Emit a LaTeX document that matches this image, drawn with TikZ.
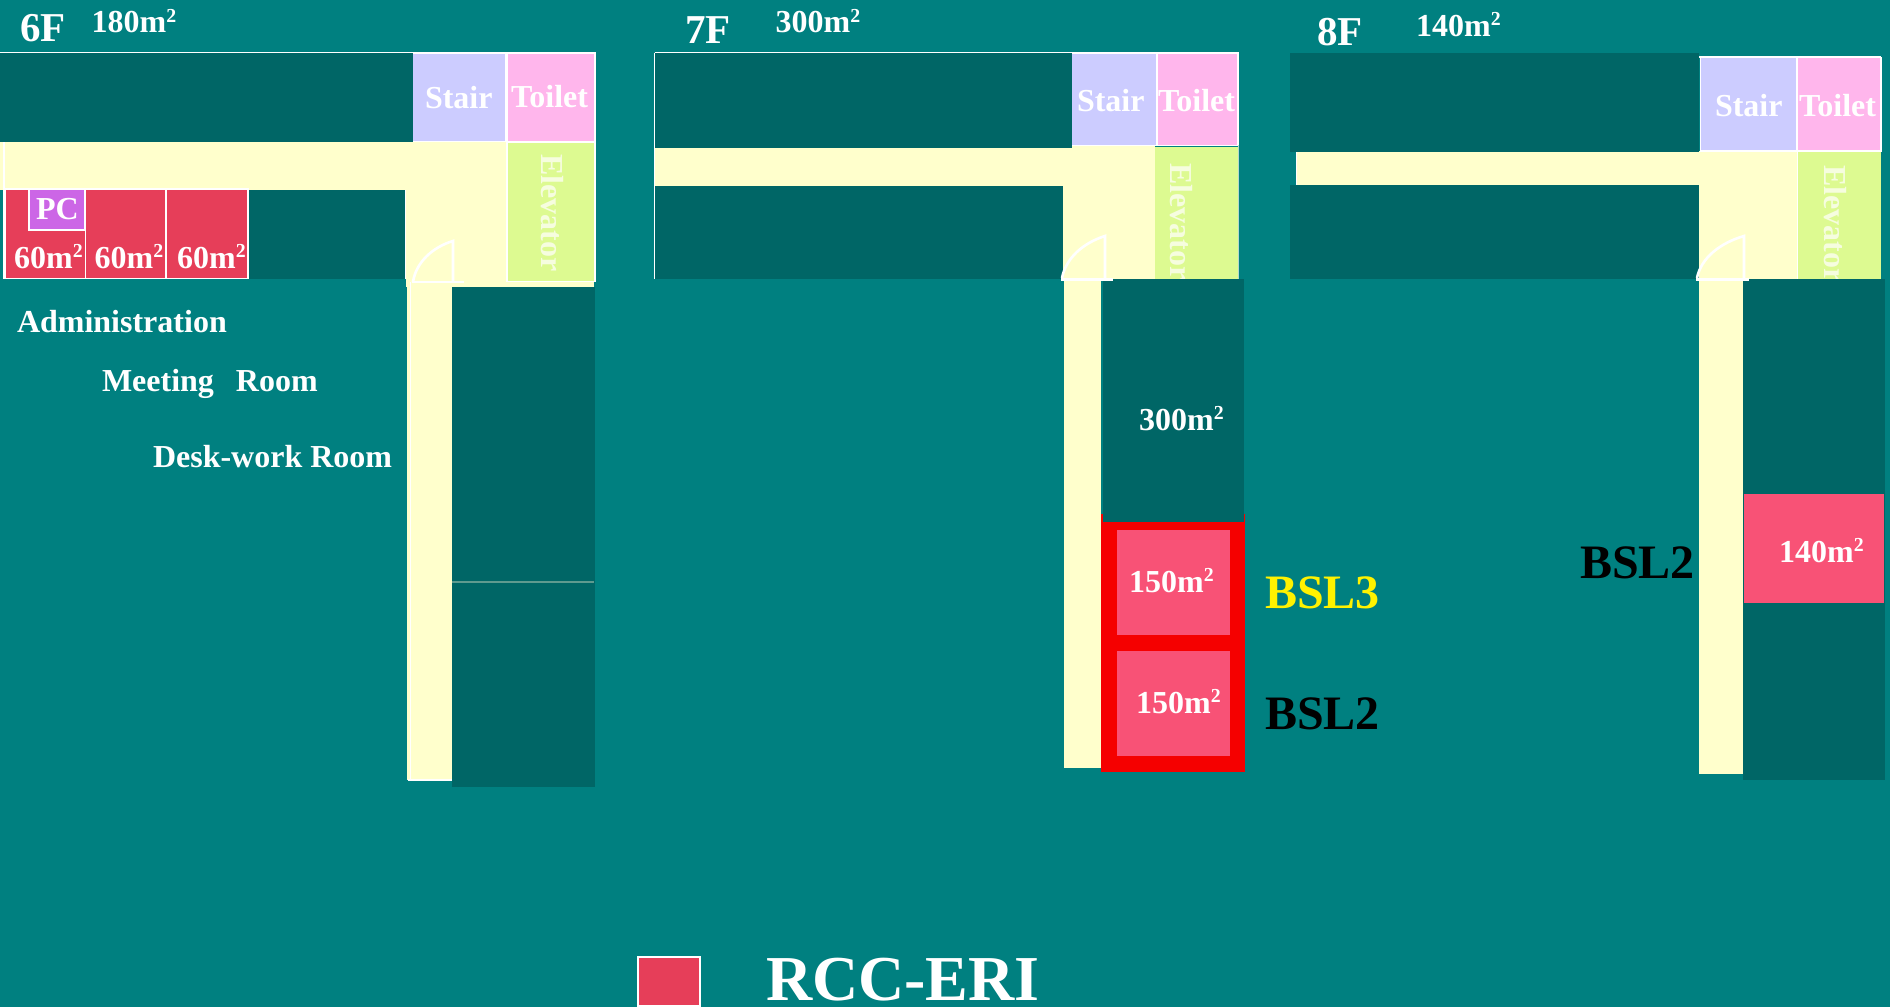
\documentclass[tikz,border=0pt]{standalone}
\usepackage{fontspec}
\setmainfont{Liberation Serif}[BoldFont={Liberation Serif Bold}]
\definecolor{bgteal}{HTML}{008080}
\definecolor{roomdark}{HTML}{006666}
\definecolor{corr}{HTML}{FFFFCC}
\definecolor{stairc}{HTML}{CCCCFF}
\definecolor{toiletc}{HTML}{FFB6EC}
\definecolor{elevc}{HTML}{DDFA91}
\definecolor{rccred}{HTML}{E63E59}
\definecolor{pcpurple}{HTML}{CC66E6}
\definecolor{brightred}{HTML}{F50000}
\definecolor{bslpink}{HTML}{F85276}
\definecolor{seam}{HTML}{5F9A8F}
\definecolor{edgepale}{HTML}{B5D8CC}
\definecolor{elevtext}{HTML}{F6FDDF}
\newcommand{\fz}[1]{\fontsize{#1}{#1}\selectfont\bfseries}
\newcommand{\msq}[1]{#1m\kern.01em\raisebox{.33em}{\scalebox{.62}{2}}}
\tikzset{
  lbl/.style={text=white,inner sep=0pt,outer sep=0pt,anchor=base west,font=\fz{32}},
  floorlbl/.style={lbl,font=\fz{41}},
  arealbl/.style={lbl,font=\fz{32}},
  bsllbl/.style={lbl,font=\fz{48}},
  vertlbl/.style={lbl,rotate=-90,text=elevtext},
  dark/.style={fill=roomdark},
  corridor/.style={fill=corr},
  stairbox/.style={fill=stairc,draw=white,line width=1.4pt},
  toiletbox/.style={fill=toiletc,draw=white,line width=1.4pt},
  elevbox/.style={fill=elevc,draw=white,line width=1.4pt},
  rccbox/.style={fill=rccred,draw=white,line width=1.4pt},
  pcbox/.style={fill=pcpurple,draw=white,line width=1.4pt},
  doorline/.style={draw=white,line width=2.6pt},
  thinwall/.style={draw=white,line width=1pt},
  pinkbox/.style={fill=bslpink},
}
\begin{document}
\begin{tikzpicture}[x=1pt,y=-1pt]
\useasboundingbox (0,0) rectangle (1890,1007);
\fill[bgteal] (0,0) rectangle (1890,1007);

%% ---------- 6F ----------
\fill[corridor] (0,142) rectangle (507,190);
\fill[corridor] (406,189) rectangle (507,282);
\fill[corridor] (406,282) rectangle (594,287);
\fill[corridor] (407,287) rectangle (452,780);
\draw[stairbox] (412.5,53) rectangle (506,141.5);
\draw[toiletbox] (507,53) rectangle (595,141.5);
\draw[elevbox] (507,142) rectangle (595,281.5);
\fill[dark] (0,53) rectangle (413.2,142);
\draw[thinwall] (0,52.5) -- (595,52.5);
\draw[thinwall,line width=1.6pt] (4,142) -- (4,279);
\draw[rccbox] (5,189) rectangle (85.5,279);
\draw[rccbox] (85.5,189) rectangle (166,279);
\draw[rccbox] (166,189) rectangle (248,279);
\fill[dark] (248.7,190) rectangle (405,279);
\draw[thinwall,line width=1pt] (405.5,190) -- (405.5,279);
\fill[bgteal] (0,278.7) rectangle (406,283);
\draw[pcbox] (29,189) rectangle (85,230);
\fill[dark] (452,287) rectangle (595,787);
\draw[seam,line width=1.6pt] (452,582) -- (594,582);
\draw[thinwall,line width=1.6pt] (410.5,282) -- (410.5,781);
\draw[thinwall,line width=1.6pt] (408,779.7) -- (452,779.7);
\draw[doorline] (413,282) .. controls (416,262) and (433,247) .. (453,241) -- (453,282);
\draw[doorline] (412,282) -- (464,282);

\node[floorlbl] (f6) at (20,41) {6F};
\node[arealbl] (a6) at (91.5,32.7) {\msq{180}};
\node[lbl] (st6) at (425,108) {Stair};
\node[lbl] (to6) at (511,107) {Toilet};
\node[vertlbl] (el6) at (541,154) {Elevator};
\node[lbl] (pc6) at (36,219) {PC};
\node[lbl] (r61) at (14,268) {\msq{60}};
\node[lbl] (r62) at (94.5,268) {\msq{60}};
\node[lbl] (r63) at (177,268) {\msq{60}};
\node[lbl] (adm) at (17,332) {Administration};
\node[lbl] (meet) at (102,391) {Meeting\hspace{22pt}Room};
\node[lbl] (desk) at (153,467) {Desk-work Room};

%% ---------- 7F ----------
\fill[corridor] (1072,146) rectangle (1155,148);
\draw[stairbox] (1071.5,53) rectangle (1157,145.5);
\draw[toiletbox] (1157,53) rectangle (1238,145.5);
\fill[dark] (654.5,53) rectangle (1072.2,148);
\fill[corridor] (654.5,148) rectangle (1155,186);
\fill[corridor] (1063,148) rectangle (1155,279);
\fill[dark] (654.5,186) rectangle (1063,279);
\draw[thinwall] (654.5,52.5) -- (1239,52.5);
\draw[thinwall] (654.5,52.5) -- (654.5,279);
\fill[elevc] (1155,147) rectangle (1238,279);
\draw[edgepale,line width=1pt] (1238,145) -- (1238,279);
\fill[corridor] (1064,279) rectangle (1101,768);
\node[vertlbl] (el7) at (1170,163) {Elevator};
\fill[brightred] (1101,514) rectangle (1245,772);
\fill[dark] (1103,279) rectangle (1244,522);
\fill[pinkbox] (1117,530) rectangle (1230,635);
\fill[pinkbox] (1117,651) rectangle (1230,756);
\draw[doorline] (1062,278) .. controls (1066,258) and (1083,243) .. (1105,236) -- (1105,279);
\draw[doorline] (1061,279.5) -- (1113,279.5);

\node[floorlbl] (f7) at (685,43.5) {7F};
\node[arealbl] (a7) at (775.5,32.7) {\msq{300}};
\node[lbl] (st7) at (1077,111) {Stair};
\node[lbl] (to7) at (1158,111) {Toilet};
\node[lbl] (a7b) at (1139,430) {\msq{300}};
\node[lbl] (r71) at (1129,592) {\msq{150}};
\node[lbl] (r72) at (1136,713) {\msq{150}};
\node[bsllbl,text=yellow] (b3) at (1265,608) {BSL3};
\node[bsllbl,text=black] (b2a) at (1265,729) {BSL2};

%% ---------- 8F ----------
\fill[dark] (1290,53) rectangle (1699,152);
\fill[corridor] (1296.5,152) rectangle (1798,185);
\fill[corridor] (1699,151) rectangle (1798,279);
\fill[dark] (1290,185) rectangle (1699,279);
\draw[thinwall] (1296.5,152) -- (1296.5,185);
\draw[thinwall,line width=1.6pt] (1699,57) -- (1881,57);
\draw[stairbox] (1700.5,57.5) rectangle (1796.5,151);
\draw[toiletbox] (1797.5,57.5) rectangle (1881,151);
\fill[elevc] (1798,151.5) rectangle (1881,279);
\draw[thinwall] (1797.5,151) -- (1797.5,279);
\fill[corridor] (1699,279) rectangle (1743,774);
\node[vertlbl] (el8) at (1824,165) {Elevator};
\fill[dark] (1743,279) rectangle (1885,780);
\fill[pinkbox] (1744,494) rectangle (1884,603);
\draw[doorline] (1697,278) .. controls (1701,258) and (1720,243) .. (1744,236) -- (1744,279);
\draw[doorline] (1696,279.5) -- (1749,279.5);

\node[floorlbl] (f8) at (1317,45) {8F};
\node[arealbl] (a8) at (1416,36) {\msq{140}};
\node[lbl] (st8) at (1715,116) {Stair};
\node[lbl] (to8) at (1799,116) {Toilet};
\node[lbl] (r81) at (1779,562) {\msq{140}};
\node[bsllbl,text=black] (b2b) at (1580,578) {BSL2};

%% ---------- legend ----------
\draw[rccbox,line width=2pt] (637.5,956.5) rectangle (700,1006);
\node[lbl,font=\fz{64}] (leg) at (766,1000.7) {RCC-ERI};
\end{tikzpicture}
\end{document}
